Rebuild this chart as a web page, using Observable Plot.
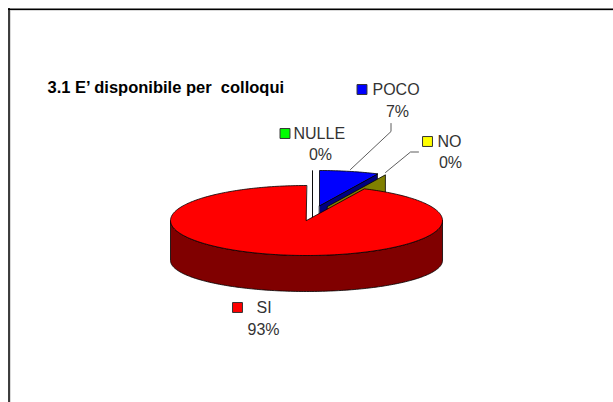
<!DOCTYPE html>
<html><head><meta charset="utf-8">
<script src="https://cdn.jsdelivr.net/npm/d3@7"></script>
<script src="https://cdn.jsdelivr.net/npm/@observablehq/plot@0.6"></script>
<style>html,body{margin:0;padding:0;background:#fff;overflow:hidden}svg{display:block}</style>
</head><body><div id="chart"></div>
<script>
const title = "3.1 E\u2019 disponibile per  colloqui";
const categories = ["POCO", "NO", "SI", "NULLE"];
const values = [7, 0, 93, 0];
const topColors = ["#0000ff", "#808000", "#ff0000", "#000000"];
const sideColors = ["#000080", "#808000", "#800000", "#000000"];
const keyColors = ["#0000ff", "#ffff00", "#ff0000", "#00ff00"];

// layout of the tilted pie
const W = 613, H = 402;
const cx = 306, cy = 220, rx = 136, ry = 35, depth = 36;
const baseDrop = 40, baseRy = 31;
const offsets = {POCO: [13, -15], NO: [21, -14], SI: [0, 0], NULLE: [6, -15]};
const labelAt = {POCO: [372, 89, 397, 111], NO: [437, 141, 450, 162], SI: [256, 307, 263, 329], NULLE: [293, 133, 320, 154]};
const keyAt = {POCO: [361.5, 89], NO: [427, 141], SI: [237, 307], NULLE: [284.5, 133]};
const leaders = {POCO: [[350,169],[390.5,131],[390.5,123]], NO: [[385,172],[410,151.5],[418,151.5]]};

const total = d3.sum(values);
let acc = 0;
const slices = categories.map((name, i) => {
  const a0 = acc / total * 2 * Math.PI; acc += values[i];
  return {name, i, value: values[i], a0, a1: acc / total * 2 * Math.PI};
});
const rim = (s, a, dz = 0, r = ry) => {
  const [dx, dy] = offsets[s.name];
  return [cx + dx + rx * Math.sin(a), cy + dy - r * Math.cos(a) + dz];
};
const apex = (s, dz = 0) => { const [dx, dy] = offsets[s.name]; return [cx + dx, cy + dy + dz]; };
const arc = (s, a0, a1, dz = 0, r = ry) => {
  const n = Math.max(1, Math.ceil(Math.abs(a1 - a0) / 0.02));
  return d3.range(n + 1).map(k => rim(s, a0 + (a1 - a0) * k / n, dz, r));
};
const polys = [];
const add = (id, fill, pts) => pts.forEach(p => polys.push({id, fill, x: p[0], y: p[1]}));
const byName = Object.fromEntries(slices.map(s => [s.name, s]));
const no = byName.NO, poco = byName.POCO, si = byName.SI, nul = byName.NULLE;
// back slices first, the large red slice occludes them
add("null-wall", "#000", [apex(nul), rim(nul, nul.a0), apex(nul, depth)]);
add("poco-wall", sideColors[0], [apex(poco), rim(poco, poco.a1), rim(poco, poco.a1, depth), apex(poco, depth)]);
add("poco-top", topColors[0], [apex(poco), ...arc(poco, poco.a0, poco.a1)]);
add("no-wall", sideColors[1], [apex(no), rim(no, no.a0), rim(no, no.a0, depth), apex(no, depth)]);
add("si-side", sideColors[2], [...arc(si, Math.PI / 2, 3 * Math.PI / 2), ...arc(si, 3 * Math.PI / 2, Math.PI / 2, baseDrop, baseRy)]);
add("si-top", topColors[2], [apex(si), ...arc(si, si.a0, si.a1)]);
const order = ["null-wall","poco-wall","poco-top","no-wall","si-side","si-top"];

const keys = slices.map(s => ({name: s.name, fill: keyColors[s.i], x: keyAt[s.name][0], y: keyAt[s.name][1]}));
const leaderPts = Object.entries(leaders).flatMap(([name, pts]) => pts.map(p => ({name, x: p[0], y: p[1]})));

const plot = Plot.plot({
  width: W, height: H, margin: 0,
  x: {domain: [0, W], range: [0, W], axis: null},
  y: {domain: [0, H], range: [0, H], axis: null},
  marks: [
    Plot.ruleX([9.7], {y1: 9, y2: H, stroke: "#c8c8c8", strokeWidth: 1}),
    Plot.ruleY([9.7], {x1: 9, x2: W, stroke: "#c8c8c8", strokeWidth: 1}),
    Plot.ruleX([8.5], {y1: 8, y2: H, stroke: "#000", strokeWidth: 1.5}),
    Plot.ruleY([8.7], {x1: 8, x2: W, stroke: "#000", strokeWidth: 1.5}),
    ...order.map(id => Plot.line(polys.filter(d => d.id === id), {x: "x", y: "y", fill: "fill", stroke: "#000", strokeWidth: 0.8, curve: "linear-closed"})),
    Plot.line(leaderPts, {x: "x", y: "y", z: "name", stroke: "#333", strokeWidth: 0.8}),
    Plot.dot(keys, {x: "x", y: "y", r: 5.6, symbol: "square", fill: "fill", stroke: "#333", strokeWidth: 1, strokeLinejoin: "miter"}),
    Plot.text(slices, {x: d => labelAt[d.name][0], y: d => labelAt[d.name][1], text: "name", textAnchor: "start", fontSize: 16, fontFamily: "Liberation Sans", fill: "#333"}),
    Plot.text(slices, {x: d => labelAt[d.name][2], y: d => labelAt[d.name][3], text: d => d.value + "%", textAnchor: "middle", fontSize: 16, fontFamily: "Liberation Sans", fill: "#333"}),
    Plot.text([title], {x: [47], y: [87.5], text: d => d, textAnchor: "start", fontSize: 16.5, fontWeight: "bold", fontFamily: "Liberation Sans", fill: "#000"})
  ]
});
document.getElementById("chart").append(plot);
</script></body></html>
